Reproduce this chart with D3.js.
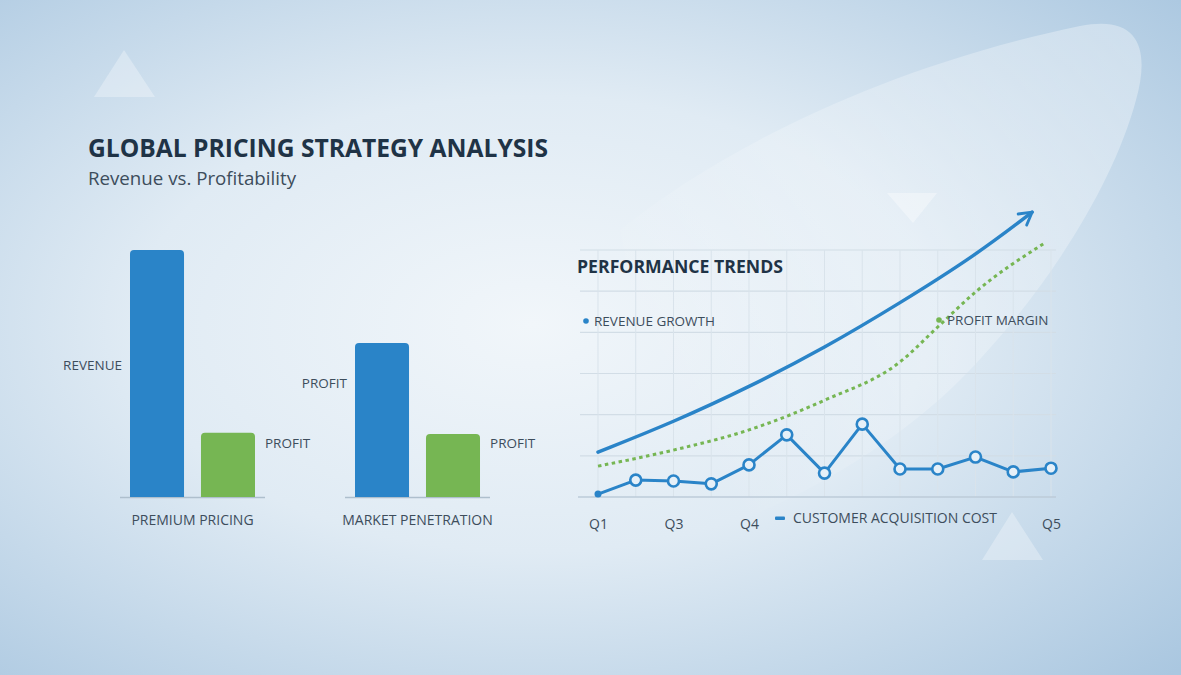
<!DOCTYPE html>
<html>
<head>
<meta charset="utf-8">
<script src="https://cdn.jsdelivr.net/npm/d3@7"></script>
<style>
  html, body { margin: 0; padding: 0; overflow: hidden; }
  svg { display: block; font-family: 'Open Sans', sans-serif; }
</style>
</head>
<body>
<div id="chart"></div>
<script>
// bar chart data
const strategies = ['PREMIUM PRICING', 'MARKET PENETRATION']
const barKeys = ['revenue', 'profit']
const revenueValues = [100, 62.3]
const profitValues = [26, 25.5]

// line chart data (x = period index 0..12)
const periodIndex = d3.range(13)
const cacValues = [0.07, 0.41, 0.39, 0.32, 0.78, 1.51, 0.58, 1.77, 0.68, 0.68, 0.97, 0.61, 0.70]
const revenueGrowthX = [0, 2, 4, 6, 8, 10, 11.5]
const revenueGrowthY = [1.09, 1.82, 2.67, 3.62, 4.71, 5.87, 6.92]
const profitMarginX = [0, 2, 4, 6, 8, 9, 10, 11.8]
const profitMarginY = [0.75, 1.14, 1.63, 2.35, 3.28, 4.13, 4.98, 6.15]
const quarterTicks = [0, 2, 4, 12]
const quarterLabels = ['Q1', 'Q3', 'Q4', 'Q5']

const W = 1181
const H = 675
const blue = '#2a84c8'
const green = '#76b653'
const dark = '#1f3346'
const mid = '#3d4d5c'

const svg = d3.select('#chart').append('svg')
  .attr('width', W)
  .attr('height', H)

const defs = svg.append('defs')
const bg = defs.append('radialGradient').attr('id', 'bg')
  .attr('cx', '0.45').attr('cy', '0.48').attr('r', '0.75')
bg.append('stop').attr('offset', '0').attr('stop-color', '#f1f6fa')
bg.append('stop').attr('offset', '0.45').attr('stop-color', '#e0ebf4')
bg.append('stop').attr('offset', '1').attr('stop-color', '#aac7e0')

const swoosh = defs.append('linearGradient').attr('id', 'swoosh')
  .attr('x1', '1').attr('y1', '0').attr('x2', '0').attr('y2', '0.6')
swoosh.append('stop').attr('offset', '0').attr('stop-color', '#fff').attr('stop-opacity', 0.35)
swoosh.append('stop').attr('offset', '0.6').attr('stop-color', '#fff').attr('stop-opacity', 0.22)
swoosh.append('stop').attr('offset', '1').attr('stop-color', '#fff').attr('stop-opacity', 0)

defs.append('marker')
  .attr('id', 'arrow')
  .attr('viewBox', '0 0 10 10')
  .attr('refX', 8).attr('refY', 5)
  .attr('markerWidth', 5).attr('markerHeight', 5)
  .attr('markerUnits', 'strokeWidth')
  .attr('orient', 'auto')
  .append('path')
  .attr('d', 'M1,1 L8,5 L1,9')
  .attr('fill', 'none')
  .attr('stroke', blue)
  .attr('stroke-width', 1.6)
  .attr('stroke-linecap', 'round')
  .attr('stroke-linejoin', 'round')

svg.append('rect').attr('width', W).attr('height', H).attr('fill', 'url(#bg)')

// decorative shapes
svg.append('path')
  .attr('d', 'M620,230 C720,150 880,68 1080,26 C1140,14 1150,50 1136,100 C1112,190 1040,300 960,380 C880,460 760,520 680,540 Z')
  .attr('fill', 'url(#swoosh)')

const tris = [
  [[124, 50], [94, 97], [155, 97]],
  [[887, 193], [937, 193], [913, 223]],
  [[1012, 512], [982, 560], [1043, 560]]
]
svg.selectAll('.tri')
  .data(tris)
  .enter().append('path')
  .attr('class', 'tri')
  .attr('d', d => `M${d.join('L')}Z`)
  .attr('fill', '#fff')
  .attr('opacity', (_, i) => (i === 1 ? 0.35 : 0.3))

// titles
svg.append('text')
  .attr('x', 88).attr('y', 157)
  .attr('font-size', 25).attr('font-weight', 700)
  .attr('fill', dark)
  .attr('textLength', 460).attr('lengthAdjust', 'spacingAndGlyphs')
  .text('GLOBAL PRICING STRATEGY ANALYSIS')

svg.append('text')
  .attr('x', 88).attr('y', 185)
  .attr('font-size', 18)
  .attr('fill', mid)
  .attr('textLength', 208).attr('lengthAdjust', 'spacingAndGlyphs')
  .text('Revenue vs. Profitability')

// ---- bar chart ----
const x0 = d3.scaleBand()
  .domain(strategies)
  .range([120, 490])
  .paddingInner(0.3556)

const x1 = d3.scaleBand()
  .domain(barKeys)
  .range([10, 135])
  .paddingInner(0.239)

const yBar = d3.scaleLinear()
  .domain([0, 100])
  .range([497, 250])

const barData = strategies.map((s, i) => ({
  strategy: s,
  values: [
    { key: 'revenue', value: revenueValues[i] },
    { key: 'profit', value: profitValues[i] }
  ]
}))

const groups = svg.selectAll('.group')
  .data(barData)
  .enter().append('g')
  .attr('class', 'group')
  .attr('transform', d => `translate(${x0(d.strategy)},0)`)

groups.append('line')
  .attr('x1', 0).attr('x2', x0.bandwidth())
  .attr('y1', yBar(0) + 0.5).attr('y2', yBar(0) + 0.5)
  .attr('stroke', '#aebfcd').attr('stroke-width', 1.5)

const r = 4
groups.selectAll('.bar')
  .data(d => d.values)
  .enter().append('path')
  .attr('class', 'bar')
  .attr('d', d => {
    const bx = x1(d.key)
    const bw = x1.bandwidth()
    const top = yBar(d.value)
    const bot = yBar(0)
    return `M${bx},${bot}V${top + r}Q${bx},${top} ${bx + r},${top}H${bx + bw - r}Q${bx + bw},${top} ${bx + bw},${top + r}V${bot}Z`
  })
  .attr('fill', d => (d.key === 'revenue' ? blue : green))

// bar annotations (value height where label sits)
const blueLabels = ['REVENUE', 'PROFIT']
const blueLabelAt = [53.4, 46]
const greenLabelAt = [22, 22]

groups.append('text')
  .attr('x', x1('revenue') - 8)
  .attr('y', (_, i) => yBar(blueLabelAt[i]) + 5)
  .attr('text-anchor', 'end')
  .attr('font-size', 13.5)
  .attr('fill', mid)
  .text((_, i) => blueLabels[i])

groups.append('text')
  .attr('x', x1('profit') + x1.bandwidth() + 10)
  .attr('y', (_, i) => yBar(greenLabelAt[i]) + 5)
  .attr('font-size', 13.5)
  .attr('fill', mid)
  .text('PROFIT')

groups.append('text')
  .attr('x', x0.bandwidth() / 2)
  .attr('y', 525)
  .attr('text-anchor', 'middle')
  .attr('font-size', 14)
  .attr('fill', mid)
  .text(d => d.strategy)

// ---- line chart ----
const xL = d3.scaleLinear().domain([0, 12]).range([598, 1051])
const yL = d3.scaleLinear().domain([0, 6]).range([497, 250])

const grid = svg.append('g').attr('class', 'grid')
grid.selectAll('.h')
  .data(d3.range(1, 7))
  .enter().append('line')
  .attr('x1', 580).attr('x2', 1056)
  .attr('y1', d => yL(d)).attr('y2', d => yL(d))
  .attr('stroke', '#d2dde6').attr('stroke-width', 1.2)
grid.selectAll('.v')
  .data(periodIndex)
  .enter().append('line')
  .attr('x1', d => xL(d)).attr('x2', d => xL(d))
  .attr('y1', yL(6)).attr('y2', yL(0))
  .attr('stroke', '#d9e3eb').attr('stroke-width', 1)

svg.append('line')
  .attr('x1', 578).attr('x2', 1056)
  .attr('y1', yL(0)).attr('y2', yL(0))
  .attr('stroke', '#bccbd8').attr('stroke-width', 1.5)

const xAxis = svg.append('g')
  .attr('transform', `translate(0,${yL(0)})`)
  .call(d3.axisBottom(xL)
    .tickValues(quarterTicks)
    .tickFormat((_, i) => quarterLabels[i])
    .tickSize(0)
    .tickPadding(22))
xAxis.select('.domain').remove()
xAxis.selectAll('text')
  .attr('font-family', 'Open Sans, sans-serif')
  .attr('font-size', 14)
  .attr('fill', mid)

svg.append('text')
  .attr('x', 577).attr('y', 273)
  .attr('font-size', 17).attr('font-weight', 700)
  .attr('fill', dark)
  .attr('textLength', 206).attr('lengthAdjust', 'spacingAndGlyphs')
  .text('PERFORMANCE TRENDS')

const curve = d3.line()
  .x(d => xL(d[0]))
  .y(d => yL(d[1]))
  .curve(d3.curveMonotoneX)

svg.append('path')
  .datum(d3.zip(profitMarginX, profitMarginY))
  .attr('d', curve)
  .attr('fill', 'none')
  .attr('stroke', green)
  .attr('stroke-width', 3)
  .attr('stroke-dasharray', '3.5,3.5')

svg.append('path')
  .datum(d3.zip(revenueGrowthX, revenueGrowthY))
  .attr('d', curve.curve(d3.curveBasis))
  .attr('fill', 'none')
  .attr('stroke', blue)
  .attr('stroke-width', 3.5)
  .attr('stroke-linecap', 'round')
  .attr('marker-end', 'url(#arrow)')

const cac = d3.zip(periodIndex, cacValues)
svg.append('path')
  .datum(cac)
  .attr('d', d3.line().x(d => xL(d[0])).y(d => yL(d[1])))
  .attr('fill', 'none')
  .attr('stroke', blue)
  .attr('stroke-width', 3)
  .attr('stroke-linejoin', 'round')

svg.selectAll('.pt')
  .data(cac)
  .enter().append('circle')
  .attr('class', 'pt')
  .attr('cx', d => xL(d[0]))
  .attr('cy', d => yL(d[1]))
  .attr('r', (_, i) => (i === 0 ? 3.5 : 5.5))
  .attr('fill', (_, i) => (i === 0 ? blue : '#e6f0f8'))
  .attr('stroke', blue)
  .attr('stroke-width', (_, i) => (i === 0 ? 0 : 2.6))

// legends
const legends = [
  { label: 'REVENUE GROWTH', color: blue, x: 586, y: 321, kind: 'dot' },
  { label: 'PROFIT MARGIN', color: green, x: 939, y: 320, kind: 'dot' },
  { label: 'CUSTOMER ACQUISITION COST', color: blue, x: 780, y: 518, kind: 'dash' }
]
const lg = svg.selectAll('.legend')
  .data(legends)
  .enter().append('g')
  .attr('class', 'legend')
  .attr('transform', d => `translate(${d.x},${d.y})`)

lg.filter(d => d.kind === 'dot').append('circle')
  .attr('r', 2.8)
  .attr('fill', d => d.color)
lg.filter(d => d.kind === 'dash').append('rect')
  .attr('x', -5).attr('y', -1.5)
  .attr('width', 10).attr('height', 3.5)
  .attr('rx', 1)
  .attr('fill', d => d.color)

lg.append('text')
  .attr('x', d => (d.kind === 'dash' ? 13 : 8))
  .attr('y', 5)
  .attr('font-size', d => (d.kind === 'dash' ? 14 : 13.5))
  .attr('fill', mid)
  .text(d => d.label)
</script>
</body>
</html>
